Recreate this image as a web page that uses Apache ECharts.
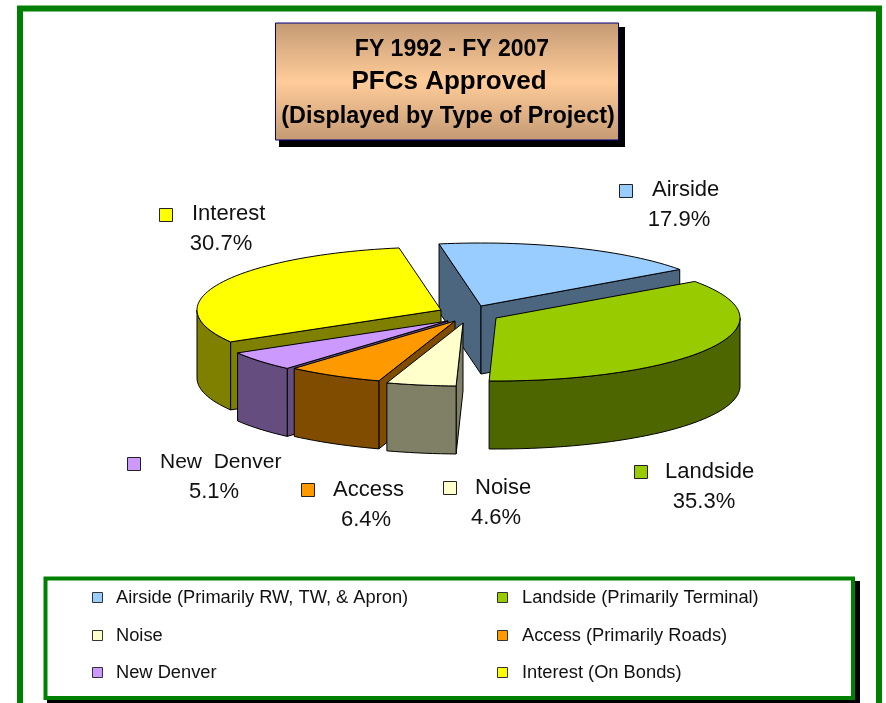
<!DOCTYPE html>
<html>
<head>
<meta charset="utf-8">
<style>html,body{margin:0;padding:0;background:#fff}#c{width:886px;height:703px}</style>
<script src="https://cdn.jsdelivr.net/npm/echarts@6/dist/echarts.min.js"></script>
</head>
<body>
<div id="c"></div>
<script>
// ---- data ----
const categories = ['Airside', 'Landside', 'Noise', 'Access', 'New  Denver', 'Interest'];
const values = [17.9, 35.3, 4.6, 6.4, 5.1, 30.7];
const legendNames = ['Airside (Primarily RW, TW, & Apron)', 'Landside (Primarily Terminal)', 'Noise',
  'Access (Primarily Roads)', 'New Denver', 'Interest (On Bonds)'];
const titleLines = ['FY 1992 - FY 2007', 'PFCs Approved', '(Displayed by Type of Project)'];
const topColors = ['#99ccff', '#99cc00', '#ffffcc', '#ff9900', '#cc99ff', '#ffff00'];
const wallColors = ['#4d6680', '#4d6600', '#808066', '#804d00', '#664d80', '#808000'];

// ---- layout ----
const RX = 244, RY = 63, DEPTH = 68, START_DEG = -9.9;
const apexes = [[481, 306], [496, 318], [463, 323], [455, 321], [448, 321], [441, 310]];
const paintOrder = [0, 1, 5, 4, 3, 2]; // back-to-front rank per slice
const labelPos = [
  {key: [619, 184], text: [652, 190], pct: [679, 220]},
  {key: [634, 465], text: [665, 472], pct: [704, 502]},
  {key: [443, 481], text: [475, 488], pct: [496, 518]},
  {key: [301, 483], text: [333, 490], pct: [366, 520]},
  {key: [127, 457], text: [160, 462], pct: [214, 492]},
  {key: [159, 208], text: [192, 214], pct: [221, 244]}
];
const legendPos = [[92, 597], [497, 597], [92, 635], [497, 635], [92, 672], [497, 672]];
const FONT = '"Liberation Sans", Arial, sans-serif';

const total = values.reduce((a, b) => a + b, 0);
const rad = d => d * Math.PI / 180;

function renderSlice(params, api) {
  const i = params.dataIndex;
  const share = api.value(0) / total * 360;
  let a0 = START_DEG;
  for (let k = 0; k < i; k++) a0 += values[k] / total * 360;
  const a1 = a0 + share;
  const [cx, cy] = apexes[i];
  const pt = (d, dz) => [cx + RX * Math.sin(rad(d)), cy - RY * Math.cos(rad(d)) + (dz || 0)];
  const arc = (from, to) => {
    const n = Math.max(2, Math.ceil(Math.abs(to - from) / 2));
    const out = [];
    for (let s = 0; s <= n; s++) out.push(from + (to - from) * s / n);
    return out;
  };
  const base = paintOrder[i] * 10;
  const sty = fill => ({fill: fill, stroke: '#000', lineWidth: 1, lineJoin: 'round'});
  const kids = [];
  const wall = (points, z) => kids.push({type: 'polygon', z2: base + z, shape: {points: points}, style: sty(wallColors[i])});
  // radial walls that face the viewer
  if (Math.sin(rad(a0)) < 0) wall([[cx, cy], pt(a0), pt(a0, DEPTH), [cx, cy + DEPTH]], 1);
  if (Math.sin(rad(a1)) > 0) wall([[cx, cy], pt(a1), pt(a1, DEPTH), [cx, cy + DEPTH]], 1);
  // outer rim, front half only
  const f0 = Math.max(a0, 90), f1 = Math.min(a1, 270);
  if (f1 > f0) {
    const ds = arc(f0, f1);
    wall(ds.map(d => pt(d)).concat(ds.slice().reverse().map(d => pt(d, DEPTH))), 2);
  }
  // top face
  kids.push({type: 'polygon', z2: base + 3,
    shape: {points: [[cx, cy]].concat(arc(a0, a1).map(d => pt(d)))}, style: sty(topColors[i])});
  return {type: 'group', children: kids};
}

const rect = (x, y, w, h, style, z) => ({type: 'rect', z: z, shape: {x, y, width: w, height: h}, style});
const text = (t, x, y, size, opts) => ({type: 'text', z: 30, x, y,
  style: Object.assign({text: t, fill: '#111', font: size + 'px ' + FONT, textAlign: 'left', textVerticalAlign: 'middle'}, opts || {})});

const graphics = [
  // outer frame
  rect(20, 8.5, 859, 720, {fill: 'none', stroke: '#008000', lineWidth: 6}, 1),
  // title plate
  rect(279, 27, 346, 120, {fill: '#000'}, 2),
  rect(275.5, 23, 343, 117, {
    fill: new echarts.graphic.LinearGradient(0, 0, 0, 1, [
      {offset: 0, color: '#c49a74'}, {offset: 0.5, color: '#ffcc99'}, {offset: 1, color: '#c49a74'}]),
    stroke: '#000080', lineWidth: 1}, 3),
  text(titleLines[0], 452, 50, 23, {font: 'bold 23px ' + FONT, textAlign: 'center', fill: '#000'}),
  text(titleLines[1], 449, 82, 26, {font: 'bold 26px ' + FONT, textAlign: 'center', fill: '#000'}),
  text(titleLines[2], 448, 117, 23.4, {font: 'bold 23.4px ' + FONT, textAlign: 'center', fill: '#000'}),
  // legend box
  rect(47, 581, 813, 123, {fill: '#000'}, 2),
  rect(45.5, 578.5, 807.5, 119.5, {fill: '#fff', stroke: '#008000', lineWidth: 4}, 3)
];
categories.forEach((c, i) => {
  const p = labelPos[i];
  graphics.push(rect(p.key[0] + 0.5, p.key[1] + 0.5, 13, 13, {fill: topColors[i], stroke: '#222', lineWidth: 1}, 30));
  graphics.push(text(c, p.text[0], p.text[1], i === 4 ? 21 : 22));
  graphics.push(text(values[i].toFixed(1) + '%', p.pct[0], p.pct[1], 22, {textAlign: 'center'}));
  const l = legendPos[i];
  graphics.push(rect(l[0] + 0.5, l[1] - 4.5, 10, 10, {fill: topColors[i], stroke: '#333', lineWidth: 1}, 30));
  graphics.push(text(legendNames[i], l[0] + (l[0] < 200 ? 24 : 25), l[1] + 1, 18.3));
});

const chart = echarts.init(document.getElementById('c'), null, {renderer: 'canvas'});
chart.setOption({
  animation: false,
  backgroundColor: '#fff',
  series: [{
    type: 'custom',
    coordinateSystem: 'none',
    silent: true,
    z: 10,
    renderItem: renderSlice,
    data: categories.map((c, i) => ({name: c, value: [values[i]]}))
  }],
  graphic: {elements: graphics}
});
</script>
</body>
</html>
